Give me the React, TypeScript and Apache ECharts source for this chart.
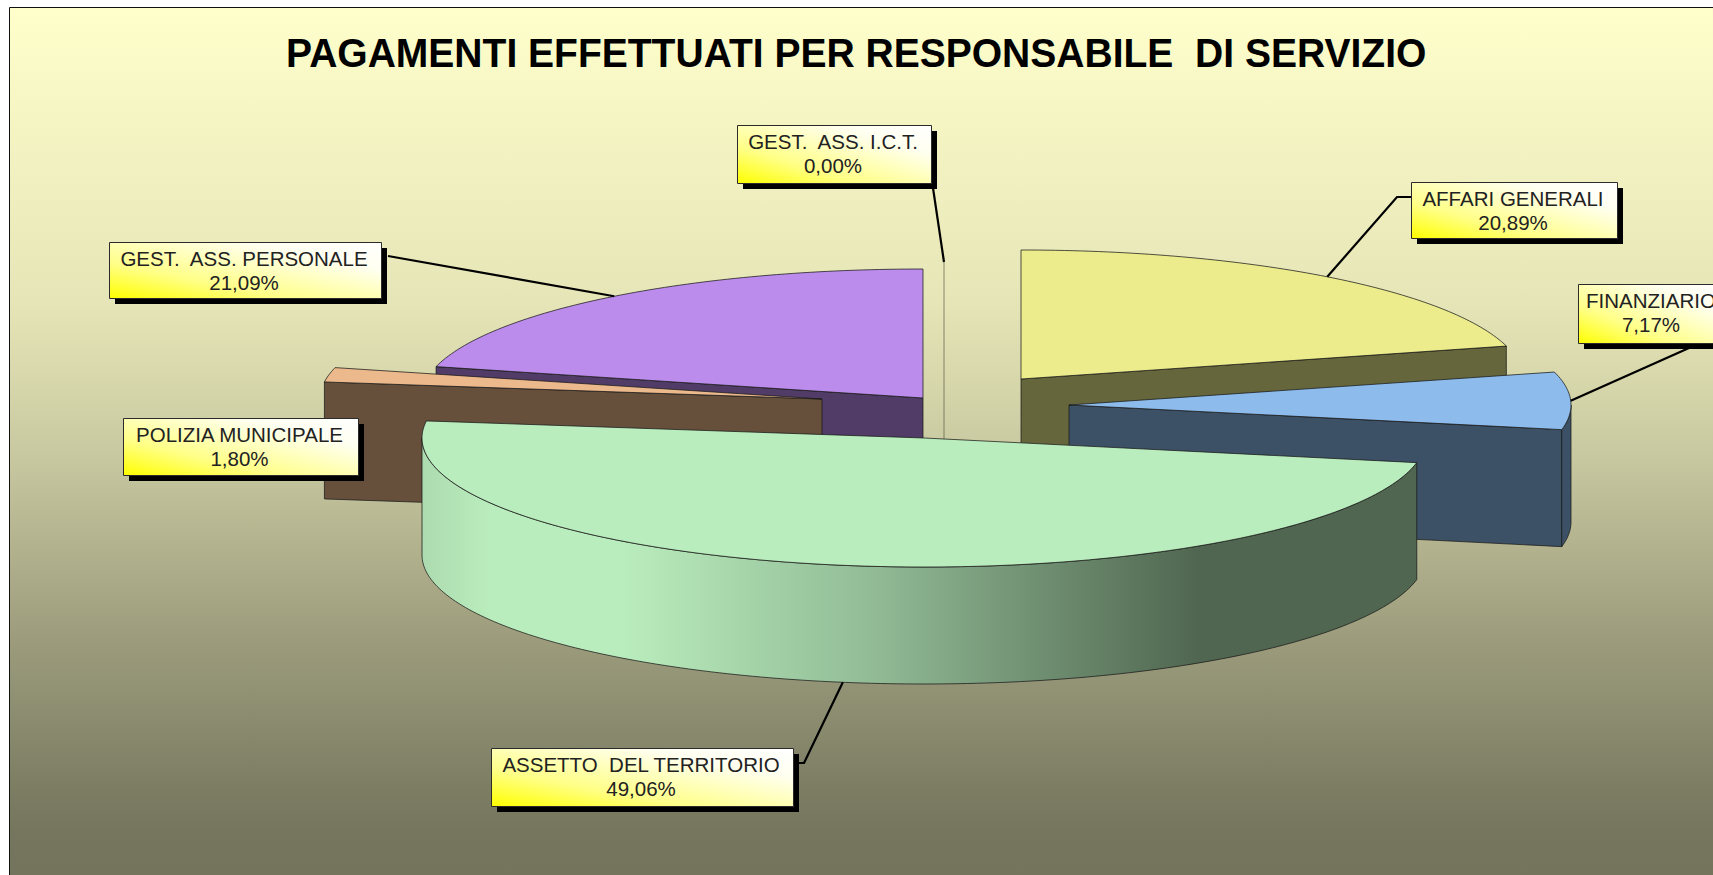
import React, { useEffect, useRef } from "react";
import * as echarts from "echarts";

// ---- data ----
const TITLE = "PAGAMENTI EFFETTUATI PER RESPONSABILE  DI SERVIZIO";
const categories = [
  "AFFARI GENERALI",
  "FINANZIARIO",
  "ASSETTO  DEL TERRITORIO",
  "POLIZIA MUNICIPALE",
  "GEST.  ASS. PERSONALE",
  "GEST.  ASS. I.C.T.",
];
const percentages = [20.89, 7.17, 49.06, 1.8, 21.09, 0.0];

// ---- layout & style (indexed like categories) ----
const RX = 502;
const RY = 129;
const DEPTH = 117;
const sliceTips = [
  [1021, 379],
  [1069, 405],
  [924, 438],
  [822, 399],
  [923, 398],
  [944, 391],
];
const topColors = ["#ECEC8C", "#8CBBEC", "#BAEDBD", "#ECB98C", "#BB8CEC", "#ECE9C4"];
const sideColors = ["#66663C", "#3C5066", "#506650", "#66503C", "#503C66", "#66663C"];
const paintOrder = [5, 0, 4, 3, 1, 2];
const boxes = [
  [1411, 182, 206, 56],
  [1578, 284, 148, 59],
  [491, 748, 302, 58],
  [123, 418, 235, 57],
  [109, 242, 272, 56],
  [737, 125, 194, 58],
];
const leaderStarts: (number[][] | null)[] = [
  [[1411, 197], [1397, 197]],
  [[1689, 348]],
  [[793, 763], [804, 763]],
  null,
  [[388, 256]],
  [[933, 188]],
];
const bgStops = [
  { offset: 0, color: "#FFFFCC" },
  { offset: 0.34, color: "#E5E5B7" },
  { offset: 0.45, color: "#D4D4A9" },
  { offset: 0.5, color: "#CBCBA3" },
  { offset: 0.74, color: "#9A9A7B" },
  { offset: 0.9, color: "#7D7D64" },
  { offset: 0.95, color: "#76765E" },
  { offset: 1, color: "#74745D" },
];
const OUTLINE = "rgba(25,25,25,0.75)";
const FONT = '"Liberation Sans", Arial, sans-serif';

// ---- geometry from the values ----
const total = percentages.reduce((a, b) => a + b, 0);
const angles: number[][] = [];
percentages.reduce((acc, v) => {
  const next = acc + (v / total) * 360;
  angles.push([acc, next]);
  return next;
}, 0);
const rad = (d: number) => (d * Math.PI) / 180;
const rimPoint = (i: number, deg: number, dz = 0) => [
  sliceTips[i][0] + RX * Math.sin(rad(deg)),
  sliceTips[i][1] - RY * Math.cos(rad(deg)) + dz,
];
const arc = (i: number, a: number, b: number, dz = 0) => {
  const n = Math.max(1, Math.ceil(Math.abs(b - a)));
  const out: number[][] = [];
  for (let k = 0; k <= n; k++) out.push(rimPoint(i, a + ((b - a) * k) / n, dz));
  return out;
};
const wedgeEdge = (i: number, deg: number) => {
  const t = sliceTips[i];
  const p = rimPoint(i, deg);
  return [t, p, [p[0], p[1] + DEPTH], [t[0], t[1] + DEPTH]];
};
const assettoRimFill = () =>
  new echarts.graphic.LinearGradient(
    422, 0, 1416, 0,
    [
      { offset: 0, color: "#ACDBB0" },
      { offset: 0.07, color: "#BAEDBD" },
      { offset: 0.2, color: "#BAEDBD" },
      { offset: 0.45, color: "#92BC96" },
      { offset: 0.78, color: "#506650" },
      { offset: 1, color: "#506650" },
    ],
    true
  );

const renderSlice = (_p: any, api: any) => {
  const i = api.value(0);
  const [a, b] = angles[i];
  const children: any[] = [];
  const side = (points: number[][], fill: any) =>
    children.push({
      type: "polygon",
      shape: { points },
      style: { fill, stroke: OUTLINE, lineWidth: 1 },
    });
  if (b - a < 0.001) {
    // empty slice: only its outline remains
    children.push({
      type: "polyline",
      shape: { points: [rimPoint(i, a), [rimPoint(i, a)[0], sliceTips[i][1] + DEPTH]] },
      style: { stroke: "rgba(70,70,50,0.6)", lineWidth: 1, fill: "none" },
    });
    return { type: "group", children };
  }
  // the cut faces that look towards the viewer
  if (Math.sin(rad(a)) < -1e-6) side(wedgeEdge(i, a), sideColors[i]);
  if (Math.sin(rad(b)) > 1e-6) side(wedgeEdge(i, b), sideColors[i]);
  // outer rim, only where it faces forward
  const from = Math.max(a, 90);
  const to = Math.min(b, 270);
  if (to > from) {
    const top = arc(i, from, to);
    const bottom = arc(i, to, from, DEPTH);
    side(top.concat(bottom), i === 2 ? assettoRimFill() : sideColors[i]);
  }
  // top face
  children.push({
    type: "polygon",
    shape: { points: [sliceTips[i], ...arc(i, a, b)] },
    style: { fill: topColors[i], stroke: OUTLINE, lineWidth: 1 },
  });
  return { type: "group", children };
};

const renderCallout = (_p: any, api: any) => {
  const i = api.value(0);
  const [x, y, w, h] = boxes[i];
  const children: any[] = [];
  const starts = leaderStarts[i];
  if (starts) {
    const mid = (angles[i][0] + angles[i][1]) / 2;
    const end = rimPoint(i, mid, Math.cos(rad(mid)) < -0.1 ? DEPTH : 0);
    children.push({
      type: "polyline",
      shape: { points: [...starts, end] },
      style: { stroke: "#000", lineWidth: 2.2, fill: "none" },
    });
  }
  children.push({
    type: "rect",
    shape: { x: x + 6, y: y + 6, width: w, height: h },
    style: { fill: "#000" },
  });
  children.push({
    type: "rect",
    shape: { x: x + 0.5, y: y + 0.5, width: w, height: h },
    style: {
      fill: new echarts.graphic.LinearGradient(0, 1, 1, 0, [
        { offset: 0, color: "#FFFF00" },
        { offset: 0.32, color: "#FFFF88" },
        { offset: 0.75, color: "#FFFFF0" },
        { offset: 1, color: "#FFFFFF" },
      ]),
      stroke: "#2b2b2b",
      lineWidth: 1,
    },
  });
  const label = (text: string, ty: number) =>
    children.push({
      type: "text",
      style: {
        text,
        x: x + w / 2 - 1,
        y: ty,
        align: "center",
        verticalAlign: "middle",
        fill: "#222222",
        font: `20.5px ${FONT}`,
      },
    });
  label(categories[i], y + 16);
  label(percentages[i].toFixed(2).replace(".", ",") + "%", y + 40.5);
  return { type: "group", children };
};

export default function App() {
  const ref = useRef<HTMLDivElement>(null);
  useEffect(() => {
    document.body.style.margin = "0";
    document.body.style.overflow = "hidden";
    const chart = echarts.init(ref.current!, undefined, { renderer: "svg" });
    chart.setOption({
      animation: false,
      backgroundColor: "#FFFFFF",
      graphic: {
        elements: [
          {
            type: "rect",
            z: 0,
            shape: { x: 9.5, y: 7.5, width: 1800, height: 1000 },
            style: {
              fill: new echarts.graphic.LinearGradient(0, 7, 0, 875, bgStops, true),
              stroke: "#111",
              lineWidth: 1,
            },
          },
          {
            type: "text",
            z: 1,
            x: 286,
            y: 53,
            scaleX: 0.952,
            style: {
              text: TITLE,
              font: `bold 41px ${FONT}`,
              fill: "#000",
              verticalAlign: "middle",
            },
          },
        ],
      },
      series: [
        {
          type: "custom",
          coordinateSystem: "none",
          renderItem: renderSlice,
          data: paintOrder.map((i) => ({ name: categories[i], value: [i, percentages[i]] })),
          z: 2,
          silent: true,
          clip: false,
        },
        {
          type: "custom",
          coordinateSystem: "none",
          renderItem: renderCallout,
          data: paintOrder.map((i) => ({ name: categories[i], value: [i, percentages[i]] })),
          z: 3,
          silent: true,
          clip: false,
        },
      ],
    });
    return () => chart.dispose();
  }, []);
  return <div ref={ref} style={{ width: 1713, height: 875 }} />;
}
